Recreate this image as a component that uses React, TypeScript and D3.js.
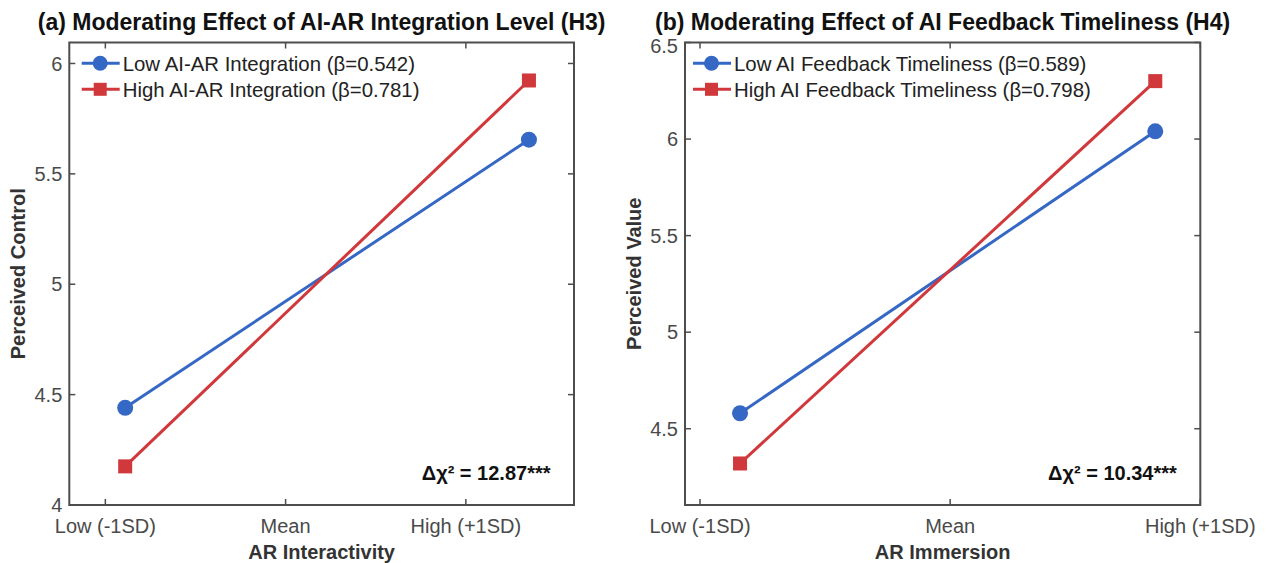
import React from 'react';
import * as d3 from 'd3';

// ---------- data ----------
const xCategories = ['Low (-1SD)', 'Mean', 'High (+1SD)'];
const xTickValues = [1, 2, 3];

// Panel (a): Perceived Control vs AR Interactivity
const panelAPointX = [1.11, 3.35];
const lowIntegration = [4.44, 5.655];
const highIntegration = [4.175, 5.923];
const panelAYTicks = [4, 4.5, 5, 5.5, 6];

// Panel (b): Perceived Value vs AR Immersion
const panelBPointX = [1.16, 2.82];
const lowTimeliness = [4.58, 6.04];
const highTimeliness = [4.32, 6.3];
const panelBYTicks = [4.5, 5, 5.5, 6, 6.5];

const BLUE = '#3567c4';
const RED = '#d0383b';
const AXIS = '#4d4d4d';
const TICKTEXT = '#4a4a4a';
const FONT = '"Liberation Sans", Arial, Helvetica, sans-serif';

type Series = { label: string; values: number[]; color: string; marker: 'circle' | 'square' };

type PanelProps = {
  left: number;
  right: number;
  top: number;
  bottom: number;
  xDomain: [number, number];
  yDomain: [number, number];
  yTicks: number[];
  pointX: number[];
  series: Series[];
  title: string;
  xLabel: string;
  yLabel: string;
  yLabelX: number;
  annotation: string;
  legendX: number;
};

function Marker({ kind, x, y, color, size }: { kind: 'circle' | 'square'; x: number; y: number; color: string; size: number }) {
  if (kind === 'circle') return <circle cx={x} cy={y} r={size / 2} fill={color} />;
  return <rect x={x - size / 2} y={y - size / 2} width={size} height={size} fill={color} />;
}

function Panel(p: PanelProps) {
  const x = d3.scaleLinear().domain(p.xDomain).range([p.left, p.right]);
  const y = d3.scaleLinear().domain(p.yDomain).range([p.bottom, p.top]);
  const line = d3
    .line<number>()
    .x((_, i) => x(p.pointX[i]))
    .y((d) => y(d));
  const tickLen = 6;
  const cx = (p.left + p.right) / 2;
  const cy = (p.top + p.bottom) / 2;
  const fmt = (v: number) => String(v);
  return (
    <g>
      {/* title */}
      <text x={cx} y={29.5} textAnchor="middle" fontFamily={FONT} fontWeight="bold" fontSize={23} fill="#111">
        {p.title}
      </text>
      {/* box */}
      <rect x={p.left} y={p.top} width={p.right - p.left} height={p.bottom - p.top} fill="#fff" stroke={AXIS} strokeWidth={2} />
      {/* x ticks bottom & top */}
      {xTickValues.map((v, i) => (
        <g key={'xt' + i}>
          <line x1={x(v)} x2={x(v)} y1={p.bottom} y2={p.bottom - tickLen} stroke={AXIS} strokeWidth={1.5} />
          <line x1={x(v)} x2={x(v)} y1={p.top} y2={p.top + tickLen} stroke={AXIS} strokeWidth={1.5} />
          <text x={x(v)} y={533} textAnchor="middle" fontFamily={FONT} fontSize={20} fill={TICKTEXT}>
            {xCategories[i]}
          </text>
        </g>
      ))}
      {/* y ticks left & right */}
      {p.yTicks.map((v, i) => (
        <g key={'yt' + i}>
          <line x1={p.left} x2={p.left + tickLen} y1={y(v)} y2={y(v)} stroke={AXIS} strokeWidth={1.5} />
          <line x1={p.right} x2={p.right - tickLen} y1={y(v)} y2={y(v)} stroke={AXIS} strokeWidth={1.5} />
          <text
            x={p.left - 7}
            y={Math.max(y(v), p.top + 3)}
            dy="0.36em"
            textAnchor="end"
            fontFamily={FONT}
            fontSize={20}
            fill={TICKTEXT}
          >
            {fmt(v)}
          </text>
        </g>
      ))}
      {/* axis labels */}
      <text x={cx} y={559} textAnchor="middle" fontFamily={FONT} fontWeight="bold" fontSize={20} fill="#333">
        {p.xLabel}
      </text>
      <text
        transform={`translate(${p.yLabelX},${cy}) rotate(-90)`}
        textAnchor="middle"
        fontFamily={FONT}
        fontWeight="bold"
        fontSize={20}
        fill="#333"
      >
        {p.yLabel}
      </text>
      {/* series lines */}
      {p.series.map((s, k) => (
        <path key={'l' + k} d={line(s.values) || ''} fill="none" stroke={s.color} strokeWidth={3} />
      ))}
      {/* markers */}
      {p.series.map((s, k) =>
        s.values.map((v, i) => (
          <Marker key={'m' + k + '-' + i} kind={s.marker} x={x(p.pointX[i])} y={y(v)} color={s.color} size={s.marker === 'circle' ? 16 : 14} />
        ))
      )}
      {/* legend */}
      {p.series.map((s, k) => {
        const ly = 63.3 + k * 26;
        return (
          <g key={'lg' + k}>
            <line x1={p.legendX} x2={p.legendX + 38} y1={ly} y2={ly} stroke={s.color} strokeWidth={3} />
            <Marker kind={s.marker} x={p.legendX + 18.5} y={ly} color={s.color} size={s.marker === 'circle' ? 15 : 13} />
            <text x={p.legendX + 41} y={ly} dy="0.36em" fontFamily={FONT} fontSize={20.4} fill="#222">
              {s.label}
            </text>
          </g>
        );
      })}
      {/* annotation */}
      <text x={p.right - 23.5} y={480} textAnchor="end" fontFamily={FONT} fontWeight="bold" fontSize={20} fill="#111">
        {p.annotation}
      </text>
    </g>
  );
}

export default function App() {
  return (
    <svg
      width={1266}
      height={563}
      viewBox="0 0 1266 563"
      style={{ position: 'absolute', left: 0, top: 0, display: 'block', background: '#fff' }}
    >
      <rect x={0} y={0} width={1266} height={563} fill="#fff" />
      <Panel
        left={69.3}
        right={574}
        top={42.5}
        bottom={505}
        xDomain={[0.8, 3.6]}
        yDomain={[4, 6.095]}
        yTicks={panelAYTicks}
        pointX={panelAPointX}
        series={[
          { label: 'Low AI-AR Integration (β=0.542)', values: lowIntegration, color: BLUE, marker: 'circle' },
          { label: 'High AI-AR Integration (β=0.781)', values: highIntegration, color: RED, marker: 'square' },
        ]}
        title="(a) Moderating Effect of AI-AR Integration Level (H3)"
        xLabel="AR Interactivity"
        yLabel="Perceived Control"
        yLabelX={25}
        annotation="Δχ² = 12.87***"
        legendX={81.7}
      />
      <Panel
        left={685}
        right={1200.3}
        top={42.5}
        bottom={505}
        xDomain={[0.94, 3.0]}
        yDomain={[4.105, 6.5]}
        yTicks={panelBYTicks}
        pointX={panelBPointX}
        series={[
          { label: 'Low AI Feedback Timeliness (β=0.589)', values: lowTimeliness, color: BLUE, marker: 'circle' },
          { label: 'High AI Feedback Timeliness (β=0.798)', values: highTimeliness, color: RED, marker: 'square' },
        ]}
        title="(b) Moderating Effect of AI Feedback Timeliness (H4)"
        xLabel="AR Immersion"
        yLabel="Perceived Value"
        yLabelX={641}
        annotation="Δχ² = 10.34***"
        legendX={693}
      />
    </svg>
  );
}
